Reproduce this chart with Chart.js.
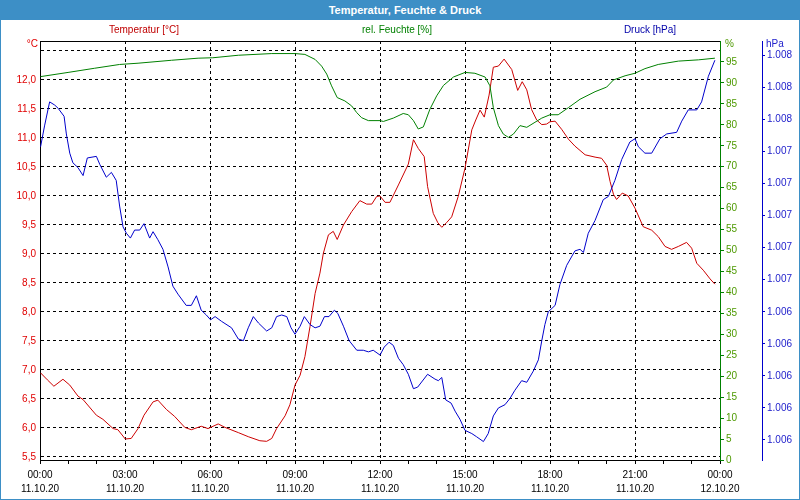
<!DOCTYPE html>
<html>
<head>
<meta charset="utf-8">
<script src="https://cdn.jsdelivr.net/npm/chart.js@4.4.1/dist/chart.umd.min.js"></script>
<style>
    html, body { margin: 0; padding: 0; background: #fff; }
    #wrap { position: relative; width: 800px; height: 500px; overflow: hidden; font-family: "Liberation Sans", Arial, sans-serif; }
    #weatherChart { position: absolute; left: 0; top: 0; }
    #titlebar { position: absolute; left: 0; top: 0; width: 810px; height: 20px; line-height: 20px; background: #3d8fc6; color: #fff; font-weight: bold; font-size: 11px; text-align: center; }
    #frame { position: absolute; left: 0; top: 0; width: 800px; height: 500px; box-sizing: border-box; border: 1px solid #3d8fc6; border-top: none; pointer-events: none; }
    .lbl { position: absolute; font-size: 10px; line-height: 12px; white-space: nowrap; }
</style>
</head>
<body>
<div id="wrap">
    <canvas id="weatherChart" width="800" height="500"></canvas>
    <div id="titlebar">Temperatur, Feuchte &amp; Druck</div>
    <div class="lbl" style="left:44px;width:200px;top:24px;text-align:center;color:#c00000">Temperatur [°C]</div>
    <div class="lbl" style="left:297px;width:200px;top:24px;text-align:center;color:#008000">rel. Feuchte [%]</div>
    <div class="lbl" style="left:550px;width:200px;top:24px;text-align:center;color:#0000aa">Druck [hPa]</div>
    <div class="lbl" style="left:10px;width:28px;top:38px;text-align:right;color:#e00000">°C</div>
    <div class="lbl" style="left:725px;top:38px;color:#4d9900">%</div>
    <div class="lbl" style="left:766px;top:38px;color:#2222cc">hPa</div>
    <div id="frame"></div>
</div>
<script>
// x axis: hours since 11.10.20 00:00
const timeLabels = ["00:00", "03:00", "06:00", "09:00", "12:00", "15:00", "18:00", "21:00", "00:00"];
const dateLabels = ["11.10.20", "11.10.20", "11.10.20", "11.10.20", "11.10.20", "11.10.20", "11.10.20", "11.10.20", "12.10.20"];

const tempTicks = [5.5, 6.0, 6.5, 7.0, 7.5, 8.0, 8.5, 9.0, 9.5, 10.0, 10.5, 11.0, 11.5, 12.0, 12.5];
const tempTickLabels = ["5,5", "6,0", "6,5", "7,0", "7,5", "8,0", "8,5", "9,0", "9,5", "10,0", "10,5", "11,0", "11,5", "12,0", ""];
const humTicks = [0, 5, 10, 15, 20, 25, 30, 35, 40, 45, 50, 55, 60, 65, 70, 75, 80, 85, 90, 95];
const pressTicks = [1006.0, 1006.2, 1006.4, 1006.6, 1006.8, 1007.0, 1007.2, 1007.4, 1007.6, 1007.8, 1008.0, 1008.2, 1008.4];
const pressTickLabels = ["1.006", "1.006", "1.006", "1.006", "1.006", "1.007", "1.007", "1.007", "1.007", "1.007", "1.008", "1.008", "1.008"];

const tempTime = [0.02, 0.26, 0.49, 0.81, 1.05, 1.34, 1.52, 1.99, 2.22, 2.58, 2.75, 3.01, 3.22, 3.46, 3.67, 3.99, 4.16, 4.46, 4.75, 5.11,
    5.34, 5.69, 5.93, 6.29, 6.53, 7.0, 7.35, 7.76, 8.0, 8.18, 8.35, 8.65, 8.82, 9.0, 9.18, 9.35, 9.53, 9.71, 9.88, 10.0,
    10.18, 10.35, 10.49, 10.71, 11.0, 11.29, 11.53, 11.71, 11.88, 12.0, 12.18, 12.35, 12.65, 13.0, 13.18, 13.35, 13.56, 13.68, 13.88, 14.04,
    14.18, 14.35, 14.53, 14.76, 15.0, 15.24, 15.38, 15.53, 15.68, 15.85, 16.0, 16.18, 16.38, 16.65, 16.86, 17.02, 17.18, 17.35, 17.53, 17.71,
    17.88, 18.0, 18.18, 18.41, 18.65, 18.88, 19.24, 19.59, 19.82, 20.0, 20.12, 20.24, 20.35, 20.55, 20.76, 21.0, 21.29, 21.59, 21.82, 22.06,
    22.29, 22.53, 22.82, 23.0, 23.18, 23.41, 23.65, 23.82];
const tempValues = [6.95, 6.83, 6.72, 6.84, 6.74, 6.55, 6.49, 6.22, 6.15, 5.99, 5.97, 5.81, 5.82, 5.99, 6.22, 6.45, 6.48, 6.32, 6.20, 6.01,
    5.97, 6.03, 5.99, 6.07, 6.01, 5.92, 5.85, 5.78, 5.77, 5.82, 5.99, 6.21, 6.40, 6.74, 6.91, 7.23, 7.75, 8.32, 8.67, 9.01,
    9.33, 9.39, 9.25, 9.50, 9.73, 9.92, 9.86, 9.86, 9.99, 10.0, 9.89, 9.89, 10.19, 10.55, 10.97, 10.82, 10.68, 10.16, 9.70, 9.54,
    9.46, 9.54, 9.64, 9.99, 10.48, 11.14, 11.31, 11.48, 11.36, 11.74, 12.22, 12.24, 12.36, 12.18, 11.82, 11.97, 11.83, 11.49, 11.31, 11.23,
    11.24, 11.28, 11.29, 11.15, 10.98, 10.86, 10.71, 10.67, 10.65, 10.53, 10.25, 10.03, 9.94, 10.05, 10.00, 9.79, 9.47, 9.41, 9.30, 9.13,
    9.08, 9.13, 9.20, 9.10, 8.84, 8.72, 8.57, 8.48];

const humTime = [0.02, 0.99, 1.93, 2.81, 3.46, 4.64, 5.58, 6.1, 7.0, 8.18, 9.0, 9.35, 9.71, 9.94, 10.12, 10.29, 10.49, 10.76, 11.0, 11.18,
    11.35, 11.59, 12.0, 12.12, 12.47, 12.82, 13.0, 13.18, 13.35, 13.53, 13.76, 14.0, 14.24, 14.59, 15.0, 15.35, 15.71, 15.88, 16.0, 16.18,
    16.35, 16.53, 16.71, 16.94, 17.18, 17.47, 17.71, 18.0, 18.29, 18.65, 19.06, 19.59, 20.0, 20.24, 20.65, 21.0, 21.35, 21.82, 22.53, 23.24,
    23.82];
const humValues = [91.5, 92.5, 93.5, 94.4, 94.7, 95.4, 95.9, 96.0, 96.6, 97.0, 97.0, 96.8, 95.6, 94.0, 92.1, 89.3, 86.5, 85.7, 84.5, 82.9,
    81.7, 81.0, 81.0, 80.8, 81.6, 82.7, 82.4, 81.0, 79.0, 79.5, 83.7, 86.9, 89.4, 91.4, 92.5, 92.3, 91.4, 89.3, 84.1, 79.8,
    77.8, 77.0, 77.8, 79.8, 79.4, 80.6, 81.6, 82.4, 82.4, 84.1, 86.1, 87.9, 89.0, 90.7, 91.7, 92.3, 93.4, 94.4, 95.2, 95.5,
    95.9];

const pressTime = [0.02, 0.16, 0.34, 0.52, 0.64, 0.85, 0.93, 1.05, 1.16, 1.34, 1.52, 1.67, 1.99, 2.11, 2.34, 2.52, 2.69, 2.81, 2.93, 3.05,
    3.19, 3.34, 3.52, 3.67, 3.87, 3.99, 4.16, 4.34, 4.52, 4.69, 4.87, 5.16, 5.34, 5.52, 5.69, 5.87, 6.02, 6.18, 6.41, 6.76,
    7.0, 7.18, 7.35, 7.53, 7.71, 8.0, 8.18, 8.35, 8.53, 8.71, 8.86, 9.0, 9.18, 9.33, 9.53, 9.71, 9.88, 10.04, 10.2, 10.39,
    10.51, 10.71, 10.91, 11.18, 11.41, 11.59, 11.76, 12.0, 12.15, 12.32, 12.47, 12.65, 12.82, 13.0, 13.18, 13.33, 13.68, 13.94, 14.06, 14.18,
    14.32, 14.51, 14.65, 14.82, 15.0, 15.24, 15.41, 15.65, 15.82, 16.0, 16.18, 16.41, 16.59, 16.76, 17.0, 17.18, 17.41, 17.59, 17.71, 17.82,
    17.94, 18.18, 18.35, 18.59, 18.88, 19.06, 19.18, 19.35, 19.59, 19.88, 20.06, 20.29, 20.53, 20.82, 21.0, 21.12, 21.35, 21.59, 21.88, 22.12,
    22.47, 22.65, 22.88, 23.18, 23.35, 23.59, 23.82];
const pressValues = [1007.83, 1007.96, 1008.11, 1008.09, 1008.07, 1008.02, 1007.91, 1007.79, 1007.73, 1007.70, 1007.65, 1007.76, 1007.77, 1007.72, 1007.64, 1007.67, 1007.62, 1007.46, 1007.33, 1007.29,
    1007.26, 1007.31, 1007.31, 1007.35, 1007.26, 1007.30, 1007.25, 1007.19, 1007.08, 1006.96, 1006.91, 1006.84, 1006.84, 1006.90, 1006.81, 1006.78, 1006.75, 1006.77, 1006.74, 1006.70,
    1006.63, 1006.62, 1006.70, 1006.77, 1006.73, 1006.68, 1006.70, 1006.77, 1006.78, 1006.77, 1006.70, 1006.66, 1006.71, 1006.77, 1006.72, 1006.70, 1006.71, 1006.77, 1006.77, 1006.81,
    1006.79, 1006.71, 1006.62, 1006.56, 1006.56, 1006.55, 1006.56, 1006.53, 1006.58, 1006.61, 1006.59, 1006.51, 1006.47, 1006.41, 1006.32, 1006.33, 1006.41, 1006.38, 1006.37, 1006.39,
    1006.25, 1006.23, 1006.18, 1006.13, 1006.06, 1006.04, 1006.02, 1005.99, 1006.04, 1006.15, 1006.20, 1006.22, 1006.26, 1006.31, 1006.37, 1006.36, 1006.43, 1006.50, 1006.62, 1006.72,
    1006.80, 1006.84, 1006.97, 1007.09, 1007.18, 1007.19, 1007.17, 1007.29, 1007.37, 1007.50, 1007.52, 1007.62, 1007.75, 1007.86, 1007.88, 1007.83, 1007.79, 1007.79, 1007.88, 1007.91,
    1007.92, 1007.99, 1008.06, 1008.06, 1008.11, 1008.27, 1008.37];

const hourTicks = [];
for (let h = 0; h <= 24; h++) hourTicks.push(h);

function toPoints(xs, ys) {
    return xs.map((x, i) => ({ x: x, y: ys[i] }));
}

function setTicks(values) {
    return scale => { scale.ticks = values.map(v => ({ value: v })); };
}

Chart.defaults.font.family = "'Liberation Sans', Arial, sans-serif";
Chart.defaults.font.size = 10;

const ctx = document.getElementById("weatherChart").getContext("2d");

new Chart(ctx, {
    type: "line",
    data: {
        datasets: [
            {
                label: "rel. Feuchte [%]",
                data: toPoints(humTime, humValues),
                borderColor: "#008000",
                borderWidth: 1,
                pointRadius: 0,
                tension: 0,
                yAxisID: "y1"
            },
            {
                label: "Druck [hPa]",
                data: toPoints(pressTime, pressValues),
                borderColor: "#0000cc",
                borderWidth: 1,
                pointRadius: 0,
                tension: 0,
                yAxisID: "y2"
            },
            {
                label: "Temperatur [°C]",
                data: toPoints(tempTime, tempValues),
                borderColor: "#cc0000",
                borderWidth: 1,
                pointRadius: 0,
                tension: 0,
                yAxisID: "y"
            }
        ]
    },
    options: {
        responsive: false,
        animation: false,
        layout: { padding: { top: 41, left: 1, right: 1, bottom: 1 } },
        plugins: {
            legend: { display: false },
            title: { display: false },
            tooltip: { enabled: false }
        },
        scales: {
            x: {
                type: "linear",
                position: "bottom",
                min: 0,
                max: 24,
                afterBuildTicks: setTicks(hourTicks),
                afterFit: s => { s.height = 39; },
                border: { color: "#000", width: 1, dash: [3, 3] },
                grid: {
                    color: c => (c.tick && c.tick.value % 3 === 0) ? "#000" : "rgba(0,0,0,0)",
                    borderDash: [3, 3],
                    tickColor: "#000",
                    tickLength: 4,
                    tickBorderDash: []
                },
                ticks: {
                    autoSkip: false,
                    maxRotation: 0,
                    padding: 4,
                    color: "#000",
                    font: { size: 10, lineHeight: 1.4 },
                    callback: v => v % 3 === 0 ? [timeLabels[v / 3], dateLabels[v / 3]] : ""
                }
            },
            xTop: {
                type: "linear",
                position: "top",
                min: 0,
                max: 24,
                afterFit: s => { s.height = 0; },
                border: { color: "#000", width: 1 },
                grid: { drawOnChartArea: false, drawTicks: false },
                ticks: { display: false }
            },
            y: {
                position: "left",
                min: 5.448,
                max: 12.672,
                afterBuildTicks: setTicks(tempTicks),
                afterFit: s => { s.width = 39; },
                border: { color: "#000", width: 1, dash: [3, 3] },
                grid: { color: "#000", borderDash: [3, 3], drawTicks: false },
                ticks: {
                    padding: 4,
                    color: "#e00000",
                    callback: (v, i) => tempTickLabels[i]
                }
            },
            y1: {
                position: "right",
                min: 0,
                max: 100,
                afterBuildTicks: setTicks(humTicks),
                afterFit: s => { s.width = 42; },
                border: { color: "#008000", width: 1 },
                grid: { drawOnChartArea: false, tickColor: "#008000", tickLength: 4 },
                ticks: { padding: 2, color: "#4d9900" }
            },
            y2: {
                position: "right",
                min: 1005.875,
                max: 1008.49,
                afterBuildTicks: setTicks(pressTicks),
                afterFit: s => { s.width = 37; },
                border: { color: "#0000cc", width: 1 },
                grid: { drawOnChartArea: false, tickColor: "#0000cc", tickLength: 3 },
                ticks: {
                    padding: 2,
                    color: "#2222cc",
                    callback: (v, i) => pressTickLabels[i]
                }
            }
        }
    }
});
</script>
</body>
</html>
